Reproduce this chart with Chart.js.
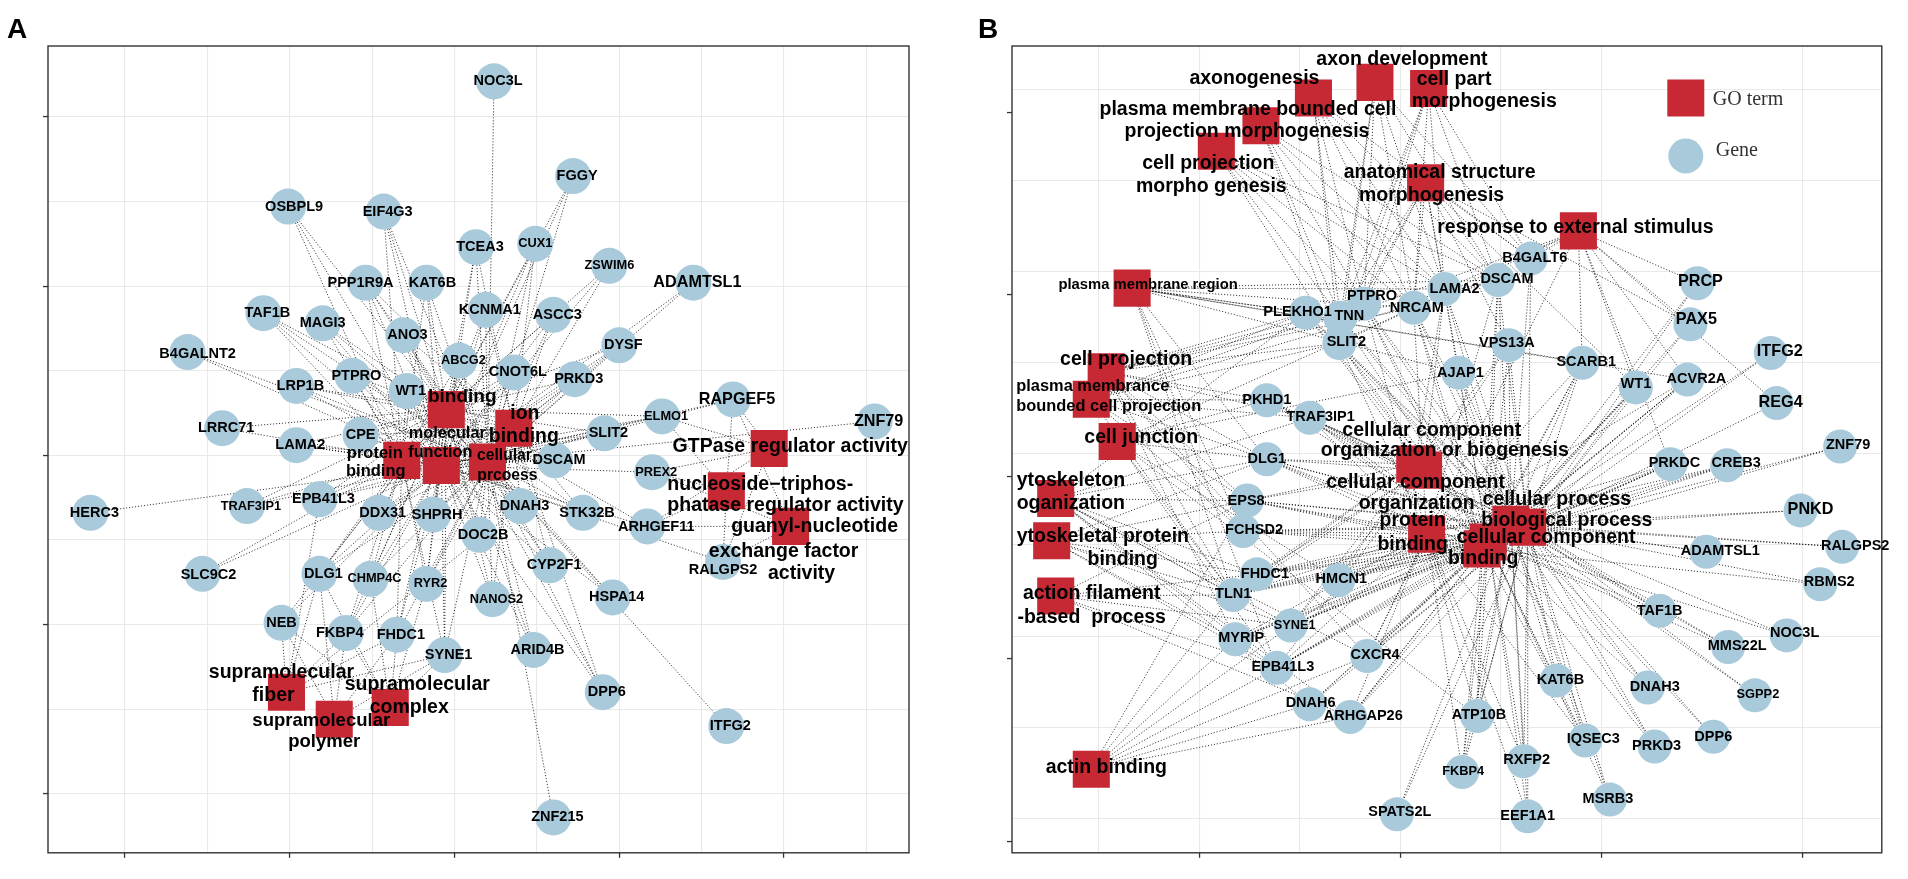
<!DOCTYPE html>
<html><head><meta charset="utf-8">
<script src="https://cdn.jsdelivr.net/npm/chart.js@4.4.1/dist/chart.umd.min.js"></script>
<style>
html,body{margin:0;padding:0;background:#fff;width:1908px;height:879px;overflow:hidden}
#wa{position:absolute;left:0;top:0;width:960px;height:879px}
#wb{position:absolute;left:960px;top:0;width:948px;height:879px}
</style></head><body>
<div id="wa"><canvas id="ca"></canvas></div>
<div id="wb"><canvas id="cb"></canvas></div>
<script>
// ---------------- Panel A data ----------------
const genesA = ['NOC3L','FGGY','OSBPL9','EIF4G3','TCEA3','CUX1','ZSWIM6','ADAMTSL1','PPP1R9A','KAT6B','KCNMA1','ASCC3','TAF1B','MAGI3','ANO3','DYSF','B4GALNT2','PTPRO','ABCG2','CNOT6L','PRKD3','LRP1B','WT1','RAPGEF5','ELMO1','ZNF79','LRRC71','CPE','SLIT2','LAMA2','DSCAM','PREX2','HERC3','TRAF3IP1','EPB41L3','DDX31','SHPRH','DNAH3','STK32B','ARHGEF11','DOC2B','CYP2F1','RALGPS2','SLC9C2','DLG1','CHMP4C','RYR2','NANOS2','HSPA14','NEB','FKBP4','FHDC1','SYNE1','ARID4B','DPP6','ITFG2','ZNF215'];
const geneAX = [2.24,2.72,0.99,1.57,2.13,2.49,2.94,3.45,1.46,1.83,2.19,2.60,0.84,1.20,1.69,3.00,0.38,1.38,2.03,2.36,2.73,1.04,1.71,3.69,3.26,4.55,0.59,1.43,2.91,1.04,2.61,3.20,-0.21,0.74,1.18,1.54,1.87,2.40,2.78,3.17,2.15,2.58,3.63,0.47,1.18,1.49,1.83,2.23,2.96,0.95,1.34,1.65,1.94,2.48,2.90,3.65,2.60];
const geneAY = [4.21,3.65,3.47,3.44,3.23,3.25,3.12,3.02,3.02,3.02,2.86,2.83,2.84,2.78,2.71,2.65,2.61,2.47,2.56,2.49,2.45,2.41,2.38,2.33,2.23,2.20,2.16,2.12,2.13,2.06,1.97,1.90,1.66,1.70,1.74,1.66,1.65,1.70,1.66,1.58,1.53,1.35,1.37,1.30,1.30,1.27,1.24,1.15,1.16,1.01,0.95,0.94,0.82,0.85,0.60,0.40,-0.14];
const termsA = ['binding','ion binding','molecular function','protein binding','cellular process','GTPase regulator activity','nucleoside-triphosphatase regulator activity','guanyl-nucleotide exchange factor activity','supramolecular fiber','supramolecular complex','supramolecular polymer'];
const termCodesA = ['B','IB','MF','PB','CP','GTP','NTP','GEF','SF','SC','SP'];
const termAX = [1.95,2.36,1.92,1.68,2.20,3.91,3.65,4.04,0.98,1.61,1.27];
const termAY = [2.27,2.16,1.94,1.97,1.96,2.04,1.79,1.58,0.60,0.51,0.44];
const edgesA = ['NOC3L>CP','FGGY>MF B CP','OSBPL9>MF B PB','EIF4G3>MF B PB CP','TCEA3>MF B IB CP','CUX1>MF B IB CP','ZSWIM6>MF B IB','ADAMTSL1>MF CP','PPP1R9A>MF B PB IB CP','KAT6B>MF B PB CP','KCNMA1>MF B IB CP','ASCC3>MF B IB CP','TAF1B>MF B PB CP','MAGI3>MF B PB CP','ANO3>MF B IB CP','DYSF>MF B IB CP','B4GALNT2>MF CP','PTPRO>MF B PB CP','ABCG2>MF B PB CP','CNOT6L>MF B PB CP','PRKD3>MF B IB CP','LRP1B>MF B IB CP','WT1>MF B PB IB CP','RAPGEF5>GTP NTP GEF MF CP','ELMO1>GTP NTP MF B PB','ZNF79>MF','LRRC71>MF B','CPE>MF B IB','SLIT2>MF B PB CP','LAMA2>MF B PB CP','DSCAM>MF B PB CP','PREX2>GTP NTP GEF MF','HERC3>MF','TRAF3IP1>MF B PB','EPB41L3>MF B PB CP SF','DDX31>MF B IB CP','SHPRH>MF B IB CP','DNAH3>MF B IB CP SF','STK32B>MF B IB CP','ARHGEF11>GTP NTP GEF MF B','DOC2B>MF B IB CP','CYP2F1>MF B IB CP','RALGPS2>GTP NTP GEF MF','SLC9C2>MF PB','DLG1>MF B PB CP SF SC SP','CHMP4C>MF B PB CP SC','RYR2>MF B IB PB CP SC','NANOS2>MF B IB CP','HSPA14>MF B CP','NEB>SF SC SP MF B','FKBP4>SF SC SP MF B PB CP','FHDC1>SF SC SP MF B PB CP','SYNE1>SF SC SP MF B PB CP','ARID4B>MF B CP','DPP6>MF B IB CP','ITFG2>CP','ZNF215>CP'];
const gridAX = [0,0.5,1,1.5,2,2.5,3,3.5,4,4.5];
const gridAY = [0,0.5,1,1.5,2,2.5,3,3.5,4];
const tickAX = [0,1,2,3,4];
const tickAY = [0,1,2,3,4];

// ---------------- Panel B data ----------------
const genesB = ['B4GALT6','DSCAM','LAMA2','PTPRO','PLEKHO1','TNN','NRCAM','PRCP','PAX5','SLIT2','VPS13A','SCARB1','ITFG2','AJAP1','WT1','ACVR2A','PKHD1','REG4','TRAF3IP1','ZNF79','DLG1','PRKDC','CREB3','EPS8','PNKD','FCHSD2','ADAMTSL1','RALGPS2','FHDC1','HMCN1','RBMS2','TLN1','TAF1B','SYNE1','MYRIP','NOC3L','MMS22L','CXCR4','EPB41L3','KAT6B','DNAH3','SGPP2','DNAH6','ARHGAP26','ATP10B','IQSEC3','PRKD3','DPP6','RXFP2','FKBP4','MSRB3','SPATS2L','EEF1A1'];
const geneBX = [2.648,2.485,2.219,1.819,1.528,1.701,2.066,3.477,3.442,1.696,2.539,2.904,3.842,2.288,3.171,3.427,1.335,3.871,1.548,4.187,1.335,3.343,3.625,1.237,3.990,1.217,3.521,4.197,1.286,1.691,4.088,1.168,3.289,1.454,1.178,3.921,3.630,1.834,1.385,2.776,3.230,3.763,1.548,1.750,2.381,2.919,3.264,3.556,2.613,2.307,3.042,1.982,2.633];
const geneBY = [3.072,2.954,2.905,2.824,2.775,2.748,2.802,2.937,2.711,2.608,2.597,2.500,2.554,2.446,2.365,2.408,2.295,2.279,2.198,2.041,1.971,1.944,1.938,1.744,1.690,1.577,1.463,1.490,1.339,1.307,1.285,1.226,1.139,1.058,0.983,1.004,0.940,0.891,0.826,0.756,0.718,0.675,0.626,0.556,0.562,0.427,0.394,0.448,0.313,0.254,0.103,0.022,0.011];
const termsB = ['axon development','axonogenesis','cell part morphogenesis','plasma membrane bounded cell projection morphogenesis','cell projection morphogenesis','anatomical structure morphogenesis','response to external stimulus','plasma membrane region','cell projection','plasma membrane bounded cell projection','cell junction','cellular component organization or biogenesis','cellular component organization','cytoskeleton organization','cytoskeletal protein binding','actin filament-based process','actin binding','protein binding','cellular process','biological process','cellular component','binding'];
const termCodesB = ['AD','AX','CPM','PMBM','CPRM','ASM','RES','PMR','CPJ','PMBP','CJ','CCOB','CCO','CYO','CYB','AFB','AB','PB','CPR','BP','CC','BD'];
const termBX = [1.873,1.567,2.140,1.306,1.084,2.125,2.885,0.665,0.536,0.462,0.591,2.071,2.115,0.285,0.265,0.285,0.462,2.130,2.549,2.633,2.436,2.406];
const termBY = [4.039,3.953,4.006,3.801,3.661,3.488,3.224,2.910,2.451,2.300,2.068,1.944,1.911,1.755,1.523,1.220,0.270,1.560,1.614,1.598,1.517,1.479];
const edgesB = ['B4GALT6>AD AX CPM ASM RES CPR BP','DSCAM>AD AX CPM PMBM CPRM ASM CPR BP CC BD PB CPJ PMBP PMR','LAMA2>AD AX CPM PMBM CPRM ASM RES CPR BP CC CCO CCOB PMR','PTPRO>AD AX CPM PMBM CPRM ASM BP CPR CC PB BD CPJ PMBP','PLEKHO1>CPJ PMBP PMR CC CPR BP CYO CCO','TNN>AD AX CPM PMBM CPRM ASM RES BP CPR CC PMR','NRCAM>AD AX CPM PMBM CPRM ASM CJ CC CPR BP PB BD PMR CPJ','PRCP>RES BP CPR','PAX5>ASM BP CPR RES','SLIT2>AD AX CPM PMBM CPRM ASM RES CPR BP CC PB BD CPJ PMBP','VPS13A>CCO CCOB CPR BP CC ASM','SCARB1>RES CPR BP CC PB BD PMR','ITFG2>BP CPR','AJAP1>CJ CC CPR BP PMR ASM','WT1>ASM RES BP CPR CC BD','ACVR2A>RES BP CPR CC PB BD PMR','PKHD1>CPJ PMBP CC CPR BP CCOB CJ','REG4>RES BP','TRAF3IP1>CPJ PMBP CC CPR BP CCO CCOB CYO PB BD','ZNF79>BP BD','DLG1>CJ CPJ PMBP CYO CYB PMR CC CPR BP PB BD CCO CCOB','PRKDC>BP CPR PB BD CC RES','CREB3>BP CPR PB BD','EPS8>CYO CYB AFB AB CPJ PMBP CC CPR BP PB BD CCO CCOB','PNKD>BP CPR','FCHSD2>CYB PB BD CPJ PMBP CC CPR BP PMR','ADAMTSL1>BP CPR','RALGPS2>BP CPR','FHDC1>CYO CYB AFB CC CPR BP PB BD CCO CCOB','HMCN1>CJ CC BP CPR PB BD CCOB','RBMS2>BP BD','TLN1>CJ CYO CYB AFB AB CPJ PMBP PMR CC CPR BP PB BD CCO CCOB','TAF1B>BP CPR CC','SYNE1>CYO CYB AFB AB CC CPR BP PB BD CCO CCOB','MYRIP>CYB AB CPR BP PB BD CPJ','NOC3L>BP CC','MMS22L>BP CPR CC','CXCR4>AB CYO CPJ CC BP CPR RES PB BD','EPB41L3>CJ CYO CYB AFB AB PMR CC BP CPR PB BD CCO','KAT6B>BP CPR CC','DNAH3>BP CPR CC','SGPP2>BP CPR','DNAH6>CC BP CPR CYO AB','ARHGAP26>CC BP CPR AB CYO AFB PB BD','ATP10B>BP CPR CC PB BD CJ','IQSEC3>BP CPR CC PB BD','PRKD3>BP CPR CC','DPP6>BP CPR','RXFP2>BP CPR CC PB','FKBP4>BP CPR CC PB BD','MSRB3>BP CPR CC','SPATS2L>BP CPR','EEF1A1>BP CPR CC PB'];
const gridBX = [0.5,1,1.5,2,2.5,3,4];
const gridBY = [0,0.5,1,1.5,2,2.5,3,3.5,4];
const tickBX = [1,2,3,4];
const tickBY = [-0.125,0.875,1.875,2.875,3.875];

// ---------------- styles ----------------
const GENE_BLUE = '#a9cadb';
const TERM_RED = '#c62834';
const SANS = '"Liberation Sans", Arial, Helvetica, sans-serif';
const SERIF = '"Liberation Serif", "Times New Roman", serif';

const styleA = {
  font: {base: 14.5, small: 12.8, big: 16.2}, dx: 4,
  small: ['TRAF3IP1','ZSWIM6','ABCG2','ELMO1','CHMP4C','NANOS2','RYR2','PREX2','CUX1'],
  big: ['RAPGEF5','ZNF79','ADAMTSL1'],
  shift: {CUX1:[0,0], ZSWIM6:[0,0], CPE:[0,0], MAGI3:[0,0], NEB:[0,0], FKBP4:[-6,0], PPP1R9A:[-5,0], B4GALNT2:[10,2], RALGPS2:[0,8], ARHGEF11:[9,1], OSBPL9:[6,0], KAT6B:[6,0], SLC9C2:[6,1]},
  term: {
    B:{s:19, l:[['binding',16,-13]]},
    IB:{s:19.4, l:[['ion',11,-15],['binding',10,8]]},
    MF:{s:16.3, l:[['molecular',6,-32],['function',-1,-13]]},
    PB:{s:16.5, l:[['protein',-27,-7],['binding',-26,11]]},
    CP:{s:15.7, l:[['cellular',17,-6],['prcoess',20,14]]},
    GTP:{s:19.5, l:[['GTPase regulator activity',21,-2]]},
    NTP:{s:19.5, a:'left', l:[['nucleoside\u2212triphos-',-59,-6],['phatase regulator activity',-59,15]]},
    GEF:{s:19.5, l:[['guanyl-nucleotide',24,0],['exchange factor',-7,25],['activity',11,47]]},
    SF:{s:19.5, l:[['supramolecular',-5,-20],['fiber',-13,3]]},
    SC:{s:19.5, l:[['supramolecular',27,-23],['complex',19,0]]},
    SP:{s:18.5, l:[['supramolecular',-13,2],['polymer',-10,23]]}
  }
};
const styleB = {
  font: {base: 14.5, small: 12.8, big: 16.2}, dx: 5,
  small: ['SGPP2','FKBP4','SYNE1'],
  big: ['PRCP','PAX5','ITFG2','REG4','PNKD'],
  shift: {PLEKHO1:[-8,-1], PTPRO:[8,-8], TNN:[9,-2], LAMA2:[10,0], DSCAM:[9,-1], ITFG2:[9,-1], ACVR2A:[9,-1], TRAF3IP1:[11,-1], FCHSD2:[11,-1], ADAMTSL1:[14,-1], RALGPS2:[13,-1], ARHGAP26:[13,-1], CREB3:[9,-2], PNKD:[10,-1], RBMS2:[9,-2], NOC3L:[8,-2], MMS22L:[9,-1], CXCR4:[8,-1], IQSEC3:[8,-2], FHDC1:[8,0], ZNF79:[8,-1], VPS13A:[-2,-2], EPS8:[-1,0], DLG1:[0,0], PKHD1:[0,0], TLN1:[0,-1], TAF1B:[0,0], DPP6:[0,0], EEF1A1:[0,0], WT1:[0,-3], MSRB3:[-2,-1], FKBP4:[1,-1], AJAP1:[2,0], ATP10B:[2,-1], DNAH6:[1,-1], PAX5:[6,-5], NRCAM:[3,0], PRCP:[3,-2], SCARB1:[4,-1], SYNE1:[4,0], HMCN1:[3,-1], RXFP2:[3,-1], SPATS2L:[3,-2], SGPP2:[3,-1], PRKD3:[2,-1], KAT6B:[4,-1], B4GALT6:[4,-1], MYRIP:[6,-1], EPB41L3:[6,-1], DNAH3:[7,-1], SLIT2:[7,-1], REG4:[4,-1], PRKDC:[4,-1]},
  term: {
    AD:{l:[['axon development',27,-23]]},
    AX:{l:[['axonogenesis',-59,-19]]},
    CPM:{a:'left', l:[['cell part',-12,-9],['morphogenesis',-17,13]]},
    PMBM:{l:[['plasma membrane bounded cell',-13,-16],['projection morphogenesis',-14,6]]},
    CPRM:{l:[['cell projection',-8,12],['morpho genesis',-5,35]]},
    ASM:{l:[['anatomical structure',14,-10],['morphogenesis',6,13]]},
    RES:{l:[['response to external stimulus',-3,-3]]},
    PMR:{s:14.8, l:[['plasma membrane region',16,-3]]},
    CPJ:{l:[['cell projection',20,-12]]},
    PMBP:{s:16.4, a:'left', l:[['plasma membrance',-75,-13],['bounded cell projection',-75,7]]},
    CJ:{l:[['cell junction',24,-4]]},
    CCOB:{l:[['cellular component',17,-34],['organization or biogenesis',30,-14]]},
    CCO:{l:[['cellular component',-8,12],['organization',-7,33]]},
    CYO:{a:'left', l:[['ytoskeleton',-39,-18],['oganization',-39,5]]},
    CYB:{l:[['ytoskeletal protein',-35,-4,'left'],['binding',71,19]]},
    AFB:{l:[['action filament',36,-2],['-based  process',36,22]]},
    AB:{l:[['actin binding',15,-2]]},
    PB:{l:[['protein',-14,-13],['binding',-14,11]]},
    CPR:{l:[['cellular process',46,-25]]},
    BP:{l:[['biological process',39,-7]]},
    CC:{l:[['cellular component',58,-4]]},
    BD:{l:[['binding',1,10]]}
  }
};

// ---------------- builder ----------------
function edgePoints(edges, genes, gx, gy, codes, tx, ty) {
  const pts = [];
  edges.forEach(s => {
    const parts = s.split('>');
    const gi = genes.indexOf(parts[0]);
    parts[1].split(' ').forEach(c => {
      const ti = codes.indexOf(c);
      if (gi < 0 || ti < 0) return;
      pts.push({x: gx[gi], y: gy[gi]}, {x: tx[ti], y: ty[ti]}, {x: null, y: null});
    });
  });
  return pts;
}

function makeAxis(min, max, grid, marks, isX) {
  const all = Array.from(new Set(grid.concat(marks))).sort((a, b) => a - b);
  return {
    type: 'linear', display: true, min: min, max: max,
    ticks: {display: false, autoSkip: false},
    border: {display: false},
    afterBuildTicks: s => { s.ticks = all.map(v => ({value: v})); },
    afterFit: s => { if (isX) s.height = 10; else s.width = 10; },
    grid: {
      drawOnChartArea: true, drawTicks: true, tickLength: 5,
      color: c => (c.tick && grid.includes(c.tick.value)) ? '#e9e9e9' : 'rgba(0,0,0,0)',
      lineWidth: 1.1,
      tickColor: c => (c.tick && marks.includes(c.tick.value)) ? '#333333' : 'rgba(0,0,0,0)',
      tickWidth: 1.3
    }
  };
}

function makePanel(canvasId, P) {
  const edges = edgePoints(P.edges, P.genes, P.gx, P.gy, P.codes, P.tx, P.ty);
  const geneData = P.genes.map((g, i) => ({x: P.gx[i], y: P.gy[i]}));
  const termData = P.codes.map((c, i) => ({x: P.tx[i], y: P.ty[i]}));
  const S = P.style;
  const deco = {
    id: 'deco_' + canvasId,
    beforeDatasetsDraw(chart) {
      const {ctx, chartArea: a} = chart;
      ctx.save();
      ctx.strokeStyle = '#333333'; ctx.lineWidth = 1.4;
      ctx.strokeRect(a.left, a.top, a.right - a.left, a.bottom - a.top);
      ctx.restore();
    },
    afterDatasetsDraw(chart) {
      const {ctx} = chart; const xs = chart.scales.x, ys = chart.scales.y;
      ctx.save();
      ctx.fillStyle = '#000000'; ctx.textBaseline = 'middle';
      P.genes.forEach((g, i) => {
        const px = xs.getPixelForValue(P.gx[i]), py = ys.getPixelForValue(P.gy[i]);
        const sz = S.big.includes(g) ? S.font.big : (S.small.includes(g) ? S.font.small : S.font.base);
        const sh = S.shift[g] || [S.dx, 0];
        ctx.font = 'bold ' + sz + 'px ' + SANS;
        ctx.textAlign = 'center';
        ctx.fillText(g, px + sh[0], py + sh[1]);
      });
      P.codes.forEach((c, i) => {
        const spec = S.term[c]; if (!spec) return;
        const px = xs.getPixelForValue(P.tx[i]), py = ys.getPixelForValue(P.ty[i]);
        ctx.font = 'bold ' + (spec.s || 19.5) + 'px ' + SANS;
        spec.l.forEach(line => {
          ctx.textAlign = line[3] || spec.a || 'center';
          ctx.fillText(line[0], px + line[1], py + line[2]);
        });
      });
      ctx.restore();
    },
    afterDraw(chart) {
      const {ctx, chartArea: a} = chart;
      ctx.save();
      ctx.fillStyle = '#000000'; ctx.textBaseline = 'alphabetic'; ctx.textAlign = 'left';
      ctx.font = 'bold 28px ' + SANS;
      ctx.fillText(P.letter, P.letterX, 38);
      if (P.legend) {
        const cx = a.right - 196;
        ctx.fillStyle = TERM_RED;
        ctx.fillRect(cx - 18.5, a.top + 52 - 18.5, 37, 37);
        ctx.fillStyle = GENE_BLUE;
        ctx.beginPath(); ctx.arc(cx, a.top + 110, 17.5, 0, Math.PI * 2); ctx.fill();
        ctx.fillStyle = '#333333'; ctx.textBaseline = 'middle';
        ctx.font = '20px ' + SERIF;
        ctx.fillText(P.legend[0], cx + 27, a.top + 54);
        ctx.fillText(P.legend[1], cx + 30, a.top + 105);
      }
      ctx.restore();
    }
  };
  return new Chart(document.getElementById(canvasId), {
    type: 'scatter',
    data: {datasets: [
      {label: 'GO term', data: termData, pointStyle: 'rect', pointRadius: 26.2, pointHoverRadius: 26.2,
       backgroundColor: TERM_RED, pointBackgroundColor: TERM_RED, borderWidth: 0, pointBorderWidth: 0, clip: false},
      {label: 'Gene', data: geneData, pointStyle: 'circle', pointRadius: P.geneR, pointHoverRadius: P.geneR,
       backgroundColor: GENE_BLUE, pointBackgroundColor: GENE_BLUE, borderWidth: 0, pointBorderWidth: 0, clip: false},
      {label: 'edges', data: edges, showLine: true, pointRadius: 0, pointHoverRadius: 0, spanGaps: false,
       borderColor: 'rgba(0,0,0,0.88)', borderWidth: 0.9, borderDash: [1.1, 1.9], fill: false, tension: 0, clip: false}
    ]},
    options: {
      responsive: true, maintainAspectRatio: false, animation: false, events: [],
      layout: {padding: P.padding},
      plugins: {legend: {display: false}, tooltip: {enabled: false}, title: {display: false}},
      scales: {
        x: makeAxis(P.xr[0], P.xr[1], P.gridX, P.tickX, true),
        y: makeAxis(P.yr[0], P.yr[1], P.gridY, P.tickY, false)
      }
    },
    plugins: [deco]
  });
}

makePanel('ca', {
  genes: genesA, gx: geneAX, gy: geneAY, codes: termCodesA, tx: termAX, ty: termAY, edges: edgesA,
  gridX: gridAX, gridY: gridAY, tickX: tickAX, tickY: tickAY,
  xr: [-0.4674, 4.7587], yr: [-0.3488, 4.4186],
  padding: {left: 38, top: 46, right: 51, bottom: 3},
  geneR: 18, style: styleA, letter: 'A', letterX: 7, legend: null
});
makePanel('cb', {
  genes: genesB, gx: geneBX, gy: geneBY, codes: termCodesB, tx: termBX, ty: termBY, edges: edgesB,
  gridX: gridBX, gridY: gridBY, tickX: tickBX, tickY: tickBY,
  xr: [0.0676, 4.3942], yr: [-0.189, 4.2387],
  padding: {left: 42, top: 46, right: 19, bottom: 3},
  geneR: 17, style: styleB, letter: 'B', letterX: 18, legend: ['GO term', 'Gene']
});
</script>
</body></html>
